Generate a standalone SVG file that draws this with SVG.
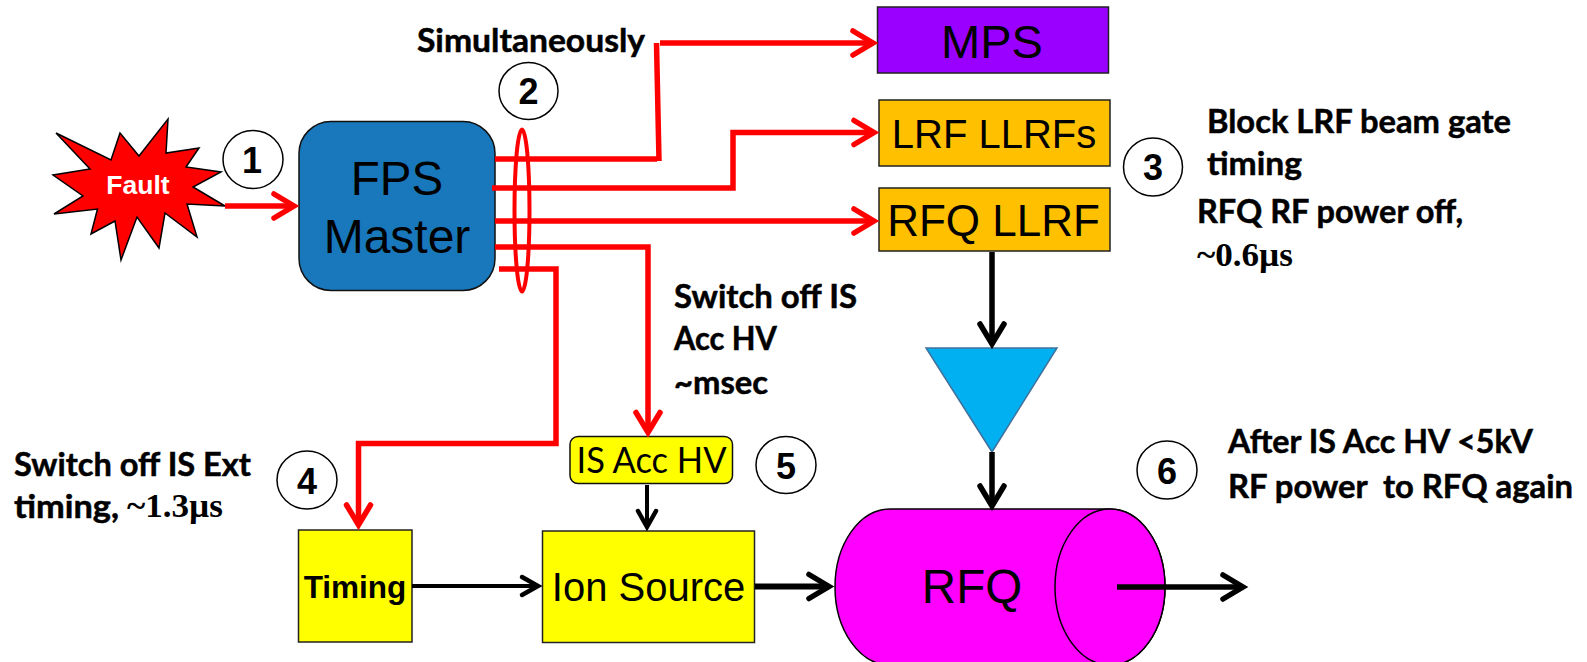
<svg xmlns="http://www.w3.org/2000/svg" width="1587" height="662" viewBox="0 0 1587 662">
<style>
.a{font-family:"Liberation Sans",Arial,sans-serif;fill:#000}
.n{font-family:"Liberation Sans",Arial,sans-serif;font-weight:700;font-size:36px;text-anchor:middle;fill:#000}
.c{font-family:Lato,"Liberation Sans",sans-serif;font-weight:700;font-size:32px;fill:#000;stroke:#000;stroke-width:.5}
.s{font-family:"Liberation Serif","Times New Roman",serif;font-weight:700;font-size:33px}
.circ{fill:#fff;stroke:#000;stroke-width:1.5}
.box{stroke:#222;stroke-width:1.5}
.r{fill:none;stroke:#f00;stroke-width:5.5}
.k{fill:none;stroke:#000;stroke-width:5.5}
.t{fill:none;stroke:#000;stroke-width:4}
</style>
<defs>
<marker id="hr" markerUnits="userSpaceOnUse" orient="auto" overflow="visible" markerWidth="30" markerHeight="30" refX="0" refY="0"><path d="M-20,-12L0,0L-20,12" fill="none" stroke="#f00" stroke-width="5.5" stroke-linecap="round"/></marker>
<marker id="hk" markerUnits="userSpaceOnUse" orient="auto" overflow="visible" markerWidth="30" markerHeight="30" refX="0" refY="0"><path d="M-20,-12L0,0L-20,12" fill="none" stroke="#000" stroke-width="5.5" stroke-linecap="round"/></marker>
<marker id="ht" markerUnits="userSpaceOnUse" orient="auto" overflow="visible" markerWidth="30" markerHeight="30" refX="0" refY="0"><path d="M-16,-9L0,0L-16,9" fill="none" stroke="#000" stroke-width="4.5" stroke-linecap="round"/></marker>
</defs>
<rect width="1587" height="662" fill="#fff"/>

<g id="fault">
<polygon points="56,133 111,160 120,133 139,156 168,119 166,153 199,148 186,167 221,172 193,187 225,206 187,204 197,237 165,213 159,248 137,217 121,260 115,221 91,234 97.5,209 54,214 83,196 53,175 90,169" fill="#f00" stroke="#000" stroke-width="1.500"/>
<text x="138" y="194" class="a" font-size="26.500" font-weight="700" text-anchor="middle" style="fill:#fff">Fault</text>
</g>
<g id="fps-master">
<rect x="299" y="121.500" width="196" height="169" rx="32" fill="#1878bb" stroke="#111" stroke-width="1.500"/>
<text x="397" y="195" class="a" font-size="47.500" text-anchor="middle">FPS</text>
<text x="397" y="252.500" class="a" font-size="48" text-anchor="middle">Master</text>
</g>
<g id="mps"><rect x="877.500" y="7" width="231" height="66" class="box" fill="#9900ff"/><text x="992" y="57.500" class="a" font-size="47" text-anchor="middle">MPS</text></g>
<g id="lrf-llrfs"><rect x="879" y="100" width="231" height="66" class="box" fill="#ffc000"/><text x="994" y="148" class="a" font-size="40" text-anchor="middle">LRF LLRFs</text></g>
<g id="rfq-llrf"><rect x="879" y="188" width="231" height="63" class="box" fill="#ffc000"/><text x="993.500" y="236" class="a" font-size="44" text-anchor="middle">RFQ LLRF</text></g>
<g id="amplifier"><polygon points="926,348 1057,348 992,452" fill="#00b0f0" stroke="#41719c" stroke-width="1.500"/></g>
<g id="rfq">
<path d="M890,509H1110A55,78 0 0 1 1110,665H890A55,78 0 0 1 890,509Z" fill="#f0f" stroke="#000" stroke-width="1.500"/>
<ellipse cx="1110" cy="587" rx="55" ry="78" fill="#f0f" stroke="#000" stroke-width="1.500"/>
<text x="972" y="603" class="a" font-size="47.500" text-anchor="middle">RFQ</text>
</g>
<g id="timing"><rect x="298.500" y="530" width="113.500" height="112" class="box" fill="#ff0"/><text x="355" y="597.500" class="a" font-size="31.500" font-weight="700" text-anchor="middle">Timing</text></g>
<g id="ion-source"><rect x="542.500" y="531" width="212" height="111.500" class="box" fill="#ff0"/><text x="648.500" y="601" class="a" font-size="40" text-anchor="middle">Ion Source</text></g>
<g id="is-acc-hv"><rect x="570" y="436.500" width="162.500" height="47" rx="8" fill="#ff0" stroke="#111" stroke-width="1.500"/><text x="576.500" y="473" font-family="Lato,'Liberation Sans',sans-serif" font-size="36" textLength="150" lengthAdjust="spacingAndGlyphs">IS Acc HV</text></g>

<g id="connectors">
<path class="r" d="M225,206H294" marker-end="url(#hr)"/>
<path class="r" d="M495,159H657"/>
<path class="r" d="M656.500,43L659,161"/>
<path class="r" d="M660,43H873" marker-end="url(#hr)"/>
<path class="r" d="M492,188H733V132.500H874" marker-end="url(#hr)"/>
<path class="r" d="M495,221H874" marker-end="url(#hr)"/>
<path class="r" d="M495,247H648V432.500" marker-end="url(#hr)"/>
<path class="r" d="M499,269H556V443.500H358.500V525" marker-end="url(#hr)"/>
<ellipse cx="522" cy="210.500" rx="7.500" ry="81" fill="none" stroke="#f00" stroke-width="4"/>
<path class="k" d="M992,252V344" marker-end="url(#hk)"/>
<path class="k" d="M992,452V506" marker-end="url(#hk)"/>
<path class="k" d="M1117,587H1243" marker-end="url(#hk)"/>
<path class="k" d="M755,586.500H829" marker-end="url(#hk)" style="stroke-width:6"/>
<path class="t" d="M412,586H538" marker-end="url(#ht)"/>
<path class="t" d="M647,485V527" marker-end="url(#ht)"/>
</g>

<g id="step-1"><ellipse cx="253" cy="159.500" rx="30" ry="29" class="circ"/><text x="252" y="173" class="n">1</text></g>
<g id="step-2"><ellipse cx="528.500" cy="91" rx="29.500" ry="28.500" class="circ"/><text x="528.500" y="104" class="n">2</text></g>
<g id="step-3"><ellipse cx="1153" cy="167" rx="29.500" ry="29" class="circ"/><text x="1153" y="179.500" class="n">3</text></g>
<g id="step-4"><ellipse cx="307" cy="480" rx="30" ry="29" class="circ"/><text x="307" y="494" class="n">4</text></g>
<g id="step-5"><ellipse cx="786" cy="465" rx="30" ry="28.500" class="circ"/><text x="786" y="479" class="n">5</text></g>
<g id="step-6"><ellipse cx="1167" cy="470" rx="30" ry="29" class="circ"/><text x="1167" y="484" class="n">6</text></g>

<g id="labels">
<text x="417" y="52" class="c" textLength="228" lengthAdjust="spacingAndGlyphs">Simultaneously</text>
<text x="1207" y="132.500" class="c" textLength="304" lengthAdjust="spacingAndGlyphs">Block LRF beam gate</text>
<text x="1207" y="174.500" class="c" textLength="95" lengthAdjust="spacingAndGlyphs">timing</text>
<text x="1197" y="223" class="c" textLength="266" lengthAdjust="spacingAndGlyphs">RFQ RF power off,</text>
<text x="1197" y="266" class="s" textLength="96" lengthAdjust="spacingAndGlyphs">~0.6µs</text>
<text x="674" y="308" class="c" textLength="183" lengthAdjust="spacingAndGlyphs">Switch off IS</text>
<text x="674" y="350" class="c" textLength="103" lengthAdjust="spacingAndGlyphs">Acc HV</text>
<text x="674" y="394" class="c" textLength="94" lengthAdjust="spacingAndGlyphs">~msec</text>
<text x="14" y="476" class="c" textLength="237" lengthAdjust="spacingAndGlyphs">Switch off IS Ext</text>
<text x="14" y="518" class="c" textLength="105" lengthAdjust="spacingAndGlyphs">timing,</text>
<text x="127" y="517" class="s" textLength="96" lengthAdjust="spacingAndGlyphs">~1.3µs</text>
<text x="1228" y="453" class="c" textLength="305" lengthAdjust="spacingAndGlyphs">After IS Acc HV &lt;5kV</text>
<text x="1228" y="498" class="c" textLength="345" lengthAdjust="spacingAndGlyphs" xml:space="preserve">RF power  to RFQ again</text>
</g>
</svg>
